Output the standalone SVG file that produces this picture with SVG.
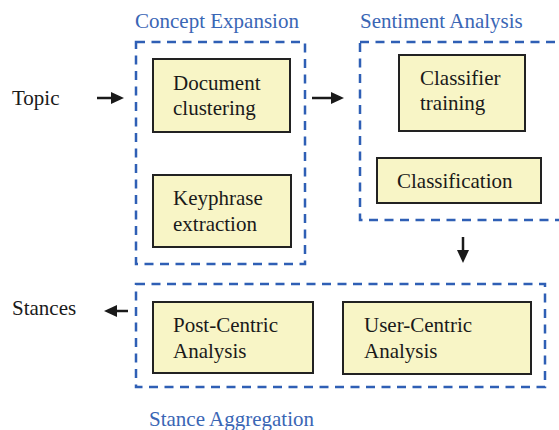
<svg xmlns="http://www.w3.org/2000/svg" width="559" height="430" viewBox="0 0 559 430">
<style>
.grp{fill:none;stroke:#2f5fb5;stroke-width:2.5;stroke-dasharray:9 6.5}
.node{fill:#f8f5c6;stroke:#222;stroke-width:2}
text{font-family:'Liberation Serif','Times New Roman',Times,'DejaVu Serif',serif;font-size:21px}
.t{fill:#1a1a1a}
.lbl{fill:#3a66b5}
.ar{stroke:#1a1a1a;stroke-width:2.5;fill:none}
.hd{fill:#1a1a1a}
</style>
<rect width="559" height="430" fill="#fff"/>
<g id="concept-expansion">
<rect class="grp" x="136" y="42" width="169" height="222"/>
<text class="lbl" x="135" y="28">Concept Expansion</text>
</g>
<g id="sentiment-analysis">
<rect class="grp" x="360" y="42" width="230" height="178"/>
<text class="lbl" x="360" y="28">Sentiment Analysis</text>
</g>
<g id="stance-aggregation">
<rect class="grp" x="136" y="284" width="409" height="103"/>
<text class="lbl" x="149" y="426">Stance Aggregation</text>
</g>
<g id="topic"><text class="t" x="12" y="105">Topic</text></g>
<g id="stances"><text class="t" x="12" y="315">Stances</text></g>
<g id="document-clustering">
<rect class="node" x="153" y="59" width="137" height="73"/>
<text class="t" x="173" y="90">Document</text>
<text class="t" x="173" y="115">clustering</text>
</g>
<g id="keyphrase-extraction">
<rect class="node" x="153" y="175" width="138" height="72"/>
<text class="t" x="173" y="205">Keyphrase</text>
<text class="t" x="173" y="231">extraction</text>
</g>
<g id="classifier-training">
<rect class="node" x="399" y="55" width="126" height="76"/>
<text class="t" x="420" y="85">Classifier</text>
<text class="t" x="420" y="110">training</text>
</g>
<g id="classification">
<rect class="node" x="377" y="158" width="164" height="45"/>
<text class="t" x="397" y="188">Classification</text>
</g>
<g id="post-centric">
<rect class="node" x="153" y="302" width="160" height="71"/>
<text class="t" x="173" y="332">Post-Centric</text>
<text class="t" x="173" y="358">Analysis</text>
</g>
<g id="user-centric">
<rect class="node" x="343" y="302" width="188" height="72"/>
<text class="t" x="364" y="332">User-Centric</text>
<text class="t" x="364" y="358">Analysis</text>
</g>
<g id="connectors">
<line class="ar" x1="97" y1="98" x2="113" y2="98"/>
<polygon class="hd" points="124,98 111,92 111,104"/>
<line class="ar" x1="312" y1="98" x2="333" y2="98"/>
<polygon class="hd" points="344,98 331,92 331,104"/>
<line class="ar" x1="463" y1="237" x2="463" y2="252"/>
<polygon class="hd" points="463,263 457,250 469,250"/>
<line class="ar" x1="128" y1="311" x2="115" y2="311"/>
<polygon class="hd" points="104,311 117,305 117,317"/>
</g>
</svg>
